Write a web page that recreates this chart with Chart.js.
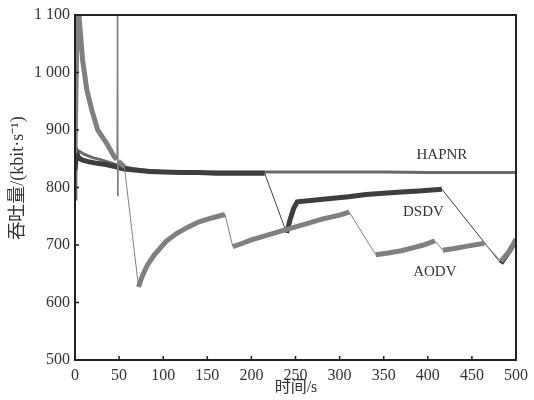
<!DOCTYPE html>
<html>
<head>
<meta charset="utf-8">
<script src="https://cdn.jsdelivr.net/npm/chart.js@4"></script>
<style>
  html, body { margin: 0; padding: 0; background: #fff; }
  #wrap { width: 534px; height: 400px; }
</style>
</head>
<body>
<div id="wrap"><canvas id="myChart" width="534" height="400"></canvas></div>
<script>
// values (time in s, throughput in kbit/s)
var hapnr_x = [0, 1, 3, 6, 10, 15, 20, 30, 40, 48, 55, 65, 80, 100, 130, 160, 200, 250, 300, 350, 400, 450, 500];
var hapnr_y = [780, 870, 864, 862, 858, 855, 852, 848, 843, 839, 836, 833, 830, 828, 827, 827, 827, 827, 827, 827, 826, 826, 826];

var dsdv_x = [0, 2, 4, 8, 15, 25, 35, 44, 50, 56, 70, 85, 100, 120, 140, 160, 180, 200, 215, 240, 244, 248, 252, 270, 290, 310, 330, 350, 370, 390, 416, 483, 492, 500];
var dsdv_y = [830, 860, 852, 848, 845, 842, 840, 837, 834, 832, 830, 828, 827, 826, 826, 825, 825, 825, 825, 721, 745, 764, 775, 778, 781, 784, 788, 790, 792, 794, 797, 668, 688, 708];

var aodv_x = [0, 3, 5, 8.6, 13.4, 19, 25.7, 35.8, 44.7, 47.5, 48, 48.5, 49, 53, 56, 72, 76, 82, 90, 103, 115, 128, 140, 155, 170, 179, 190, 200, 220, 240, 260, 280, 300, 311, 341, 355, 370, 385, 395, 408, 417, 430, 445, 464, 483, 493, 500];
var aodv_y = [860, 1150, 1090, 1022, 970, 935, 900, 877, 853, 849, 1100, 785, 846, 840, 836, 627, 645, 665, 683, 706, 720, 731, 740, 747, 753, 697, 703, 709, 718, 727, 736, 745, 752, 757, 683, 686, 690, 696, 700, 707, 691, 694, 698, 703, 672, 690, 710];

var x_ticks = [0, 50, 100, 150, 200, 250, 300, 350, 400, 450, 500];
var y_ticks = [500, 600, 700, 800, 900, 1000, 1100];

// text labels next to the curves, in data coordinates
var nhan = [
    { text: 'HAPNR', x: 416, y: 856 },
    { text: 'DSDV', x: 395, y: 757 },
    { text: 'AODV', x: 408, y: 653 }
];

function toPoints(xs, ys) {
    var pts = [];
    for (var i = 0; i < xs.length; i++) {
        pts.push({ x: xs[i], y: ys[i] });
    }
    return pts;
}

// a jump between two sampled points is drawn as a thin line
function isJump(xs, ys, i0, i1) {
    var dx = xs[i1] - xs[i0];
    var slope = (ys[i1] - ys[i0]) / dx;
    return (xs[i0] >= 45 && slope < -1.6) || Math.abs(slope) > 100;
}

function widthFor(xs, ys, w) {
    return function (c) {
        return isJump(xs, ys, c.p0DataIndex, c.p1DataIndex) ? 1 : w;
    };
}

var serif = '"Liberation Serif", "DejaVu Serif", serif';

var boxPlugin = {
    id: 'boxPlugin',
    afterDraw: function (chart) {
        var ctx = chart.ctx;
        var a = chart.chartArea;
        var sx = chart.scales.x, sy = chart.scales.y;
        ctx.save();
        ctx.strokeStyle = '#222';
        ctx.lineWidth = 2;
        ctx.strokeRect(a.left, a.top, a.right - a.left, a.bottom - a.top);
        ctx.lineWidth = 1.5;
        ctx.beginPath();
        x_ticks.forEach(function (v) {
            var px = sx.getPixelForValue(v);
            ctx.moveTo(px, a.bottom);
            ctx.lineTo(px, a.bottom - 4);
        });
        y_ticks.forEach(function (v) {
            var py = sy.getPixelForValue(v);
            ctx.moveTo(a.left, py);
            ctx.lineTo(a.left + 4, py);
        });
        ctx.stroke();

        // curve names
        ctx.fillStyle = '#333';
        ctx.font = '15px ' + serif;
        ctx.textAlign = 'center';
        ctx.textBaseline = 'middle';
        nhan.forEach(function (n) {
            ctx.fillText(n.text, sx.getPixelForValue(n.x), sy.getPixelForValue(n.y));
        });

        // axis titles
        ctx.font = '16px "Liberation Serif", "Noto Sans CJK SC", serif';
        ctx.fillText('时间/s', 296, 388);
        ctx.font = '18px "Liberation Serif", "Noto Sans CJK SC", serif';
        ctx.translate(18, 178);
        ctx.rotate(-Math.PI / 2);
        ctx.fillText('吞吐量/(kbit·s⁻¹)', 0, 0);
        ctx.restore();
    }
};

var ctx = document.getElementById('myChart').getContext('2d');
var chart = new Chart(ctx, {
    type: 'line',
    data: {
        datasets: [{
            label: 'AODV',
            data: toPoints(aodv_x, aodv_y),
            borderColor: '#808080',
            borderWidth: 5,
            segment: { borderWidth: widthFor(aodv_x, aodv_y, 5) },
            pointRadius: 0,
            tension: 0,
            fill: false
        },
        {
            label: 'DSDV',
            data: toPoints(dsdv_x, dsdv_y),
            borderColor: '#3e3e3e',
            borderWidth: 5,
            segment: { borderWidth: widthFor(dsdv_x, dsdv_y, 5) },
            pointRadius: 0,
            tension: 0,
            fill: false
        },
        {
            label: 'HAPNR',
            data: toPoints(hapnr_x, hapnr_y),
            borderColor: '#6a6a6a',
            borderWidth: 3,
            pointRadius: 0,
            tension: 0,
            fill: false
        }]
    },
    options: {
        responsive: false,
        animation: false,
        layout: { padding: { top: 15, right: 12, left: 0, bottom: 0 } },
        plugins: {
            legend: { display: false },
            tooltip: { enabled: false }
        },
        scales: {
            x: {
                type: 'linear',
                min: 0,
                max: 500,
                afterBuildTicks: function (s) {
                    s.ticks = x_ticks.map(function (v) { return { value: v }; });
                },
                afterFit: function (s) { s.height = 40; },
                grid: { display: false, drawTicks: false },
                border: { display: false },
                ticks: {
                    padding: 6,
                    maxRotation: 0,
                    autoSkip: false,
                    color: '#333',
                    font: { family: serif, size: 16 }
                }
            },
            y: {
                type: 'linear',
                min: 500,
                max: 1100,
                afterBuildTicks: function (s) {
                    s.ticks = y_ticks.map(function (v) { return { value: v }; });
                },
                afterFit: function (s) { s.width = 75; },
                grid: { display: false, drawTicks: false },
                border: { display: false },
                ticks: {
                    padding: 5,
                    color: '#333',
                    font: { family: serif, size: 16 },
                    callback: function (v) {
                        return v >= 1000 ? Math.floor(v / 1000) + ' ' + String(v % 1000).padStart(3, '0') : String(v);
                    }
                }
            }
        }
    },
    plugins: [boxPlugin]
});
</script>
</body>
</html>
